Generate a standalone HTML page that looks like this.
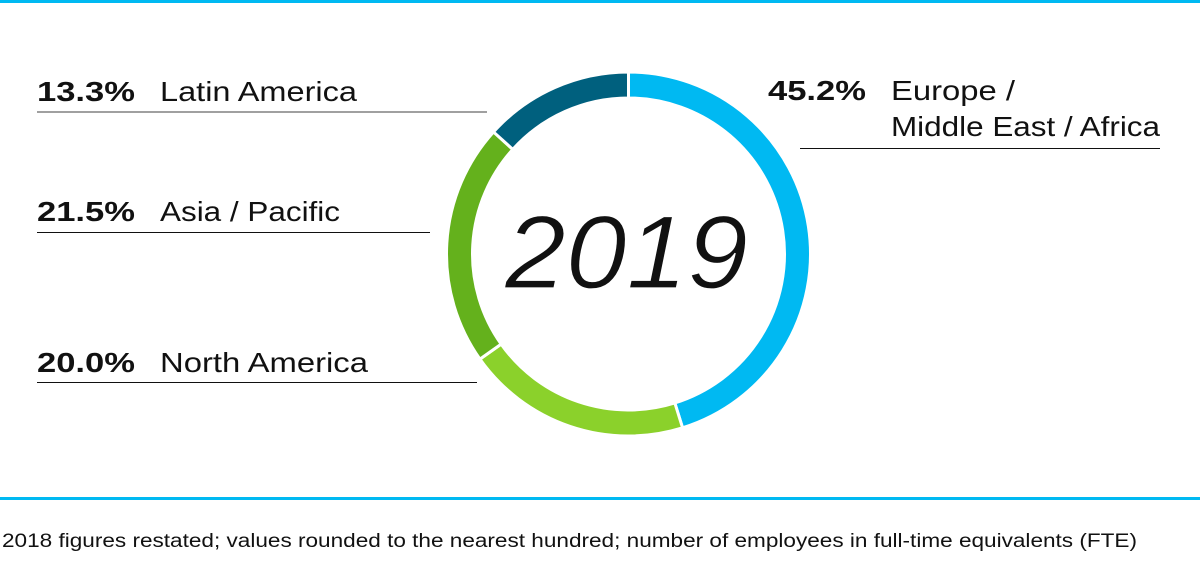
<!DOCTYPE html>
<html><head><meta charset="utf-8"><style>
body{margin:0;width:1200px;height:582px;background:#fff;overflow:hidden;font-family:"Liberation Sans",sans-serif}
</style></head><body>
<svg width="1200" height="582" viewBox="0 0 1200 582">
<rect x="0" y="0" width="1200" height="3" fill="#00b9f2"/>
<rect x="0" y="497" width="1200" height="3" fill="#00b9f2"/>
<g id="slices"></g>
<text x="505" y="288" font-size="104" font-style="italic" fill="#111" stroke="#fff" stroke-width="1.2" paint-order="normal" textLength="243" lengthAdjust="spacingAndGlyphs">2019</text>
<g font-size="28" fill="#111">
<text x="37" y="101" font-weight="bold" textLength="98" lengthAdjust="spacingAndGlyphs">13.3%</text>
<text x="160" y="101" textLength="197" lengthAdjust="spacingAndGlyphs">Latin America</text>
<line x1="37" y1="112" x2="487" y2="112" stroke="#808080" stroke-width="1.5"/>
<text x="37" y="221" font-weight="bold" textLength="98" lengthAdjust="spacingAndGlyphs">21.5%</text>
<text x="160" y="221" textLength="180" lengthAdjust="spacingAndGlyphs">Asia / Pacific</text>
<line x1="37" y1="232.5" x2="430" y2="232.5" stroke="#111" stroke-width="1"/>
<text x="37" y="372" font-weight="bold" textLength="98" lengthAdjust="spacingAndGlyphs">20.0%</text>
<text x="160" y="372" textLength="208" lengthAdjust="spacingAndGlyphs">North America</text>
<line x1="37" y1="382.5" x2="477" y2="382.5" stroke="#111" stroke-width="1"/>
<text x="768" y="100" font-weight="bold" textLength="98" lengthAdjust="spacingAndGlyphs">45.2%</text>
<text x="891" y="100" textLength="124" lengthAdjust="spacingAndGlyphs">Europe /</text>
<text x="891" y="136" textLength="269" lengthAdjust="spacingAndGlyphs">Middle East / Africa</text>
<line x1="800" y1="148.5" x2="1160" y2="148.5" stroke="#111" stroke-width="1"/>
</g>
<text x="2" y="547" font-size="19" fill="#111" textLength="1135" lengthAdjust="spacingAndGlyphs">2018 figures restated; values rounded to the nearest hundred; number of employees in full-time equivalents (FTE)</text>
</svg>
<script>
const categories=["Europe / Middle East / Africa","North America","Asia / Pacific","Latin America"];
const values=[45.2,20.0,21.5,13.3];
const colors=["#00b9f2","#8bd12b","#64b11c","#00607e"];
const cx=628.5,cy=254,R=182,r=156;
const g=document.getElementById('slices');
const total=values.reduce((a,b)=>a+b,0);
let acc=0;
function pt(rad,a){return [cx+rad*Math.sin(a),cy-rad*Math.cos(a)];}
values.forEach((v,i)=>{
  const a0=acc/total*2*Math.PI;acc+=v;const a1=acc/total*2*Math.PI;
  const large=(a1-a0)>Math.PI?1:0;
  const p1=pt(R,a0),p2=pt(R,a1),p3=pt(r,a1),p4=pt(r,a0);
  const p=document.createElementNS('http://www.w3.org/2000/svg','path');
  p.setAttribute('d',`M${p1} A${R},${R} 0 ${large} 1 ${p2} L${p3} A${r},${r} 0 ${large} 0 ${p4} Z`);
  p.setAttribute('fill',colors[i]);
  p.setAttribute('stroke','#fff');
  p.setAttribute('stroke-width','3');
  
  
  g.appendChild(p);
});
</script>
</body></html>
